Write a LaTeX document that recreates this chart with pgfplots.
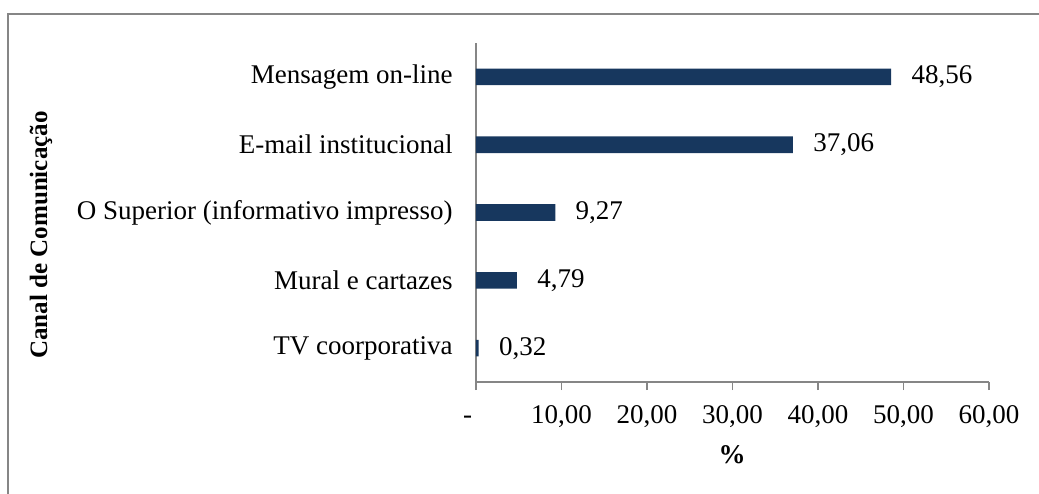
\documentclass[border=0pt]{standalone}
\usepackage{fontspec}
\setmainfont{Liberation Serif}
\usepackage{pgfplots}
\pgfplotsset{compat=1.18}
\definecolor{barblue}{HTML}{17375E}
\definecolor{axgray}{HTML}{868686}
\begin{document}
\fontsize{13.5}{16}\selectfont
\begin{tikzpicture}
\useasboundingbox (0,0) rectangle (519.5pt,246.5pt);
\draw[axgray, line width=1pt] (4pt,-1pt) -- (4pt,239.5pt) -- (521pt,239.5pt);
\begin{axis}[
  at={(238pt,55.5pt)}, anchor=south west,
  scale only axis, width=256.5pt, height=169.5pt,
  xbar, bar width=8.3pt,
  xmin=0, xmax=60, ymin=-0.5, ymax=4.5,
  axis x line*=bottom, axis y line*=left,
  axis line style={axgray, line width=0.8pt},
  xtick={0,10,20,30,40,50,60},
  xticklabels={{\makebox[0pt][r]{-\hspace{2pt}}},{10,00},{20,00},{30,00},{40,00},{50,00},{60,00}},
  ytick={0,1,2,3,4},
  yticklabels={TV coorporativa, Mural e cartazes, O Superior (informativo impresso), E-mail institucional, Mensagem on-line},
  tick align=outside, major tick length=4pt,
  xtick style={axgray, line width=0.8pt},
  ytick style={draw=none},
  xticklabel style={anchor=base, inner sep=0pt, yshift=-16.5pt, font=\fontsize{13.5}{16}\selectfont},
  yticklabel style={anchor=east, inner sep=0pt, xshift=-7.5pt, font=\fontsize{13.5}{16}\selectfont},
  nodes near coords,
  nodes near coords align={horizontal},
  every node near coord/.append style={anchor=west, inner sep=0pt, xshift=10pt, black, font=\fontsize{13.5}{16}\selectfont,
    /pgf/number format/.cd, fixed, fixed zerofill, precision=2, use comma, assume math mode=true},
  clip=false,
]
\addplot[fill=barblue, draw=none] coordinates {
  (0.32,0) (4.79,1) (9.27,2) (37.06,3) (48.56,4)
};
\end{axis}
\node[font=\fontsize{13.5}{16}\selectfont\bfseries] at (366pt,19pt) {\%};
\node[rotate=90, font=\fontsize{12.5}{15}\selectfont\bfseries] at (20.5pt,129pt) {Canal de Comunicação};
\end{tikzpicture}
\end{document}
